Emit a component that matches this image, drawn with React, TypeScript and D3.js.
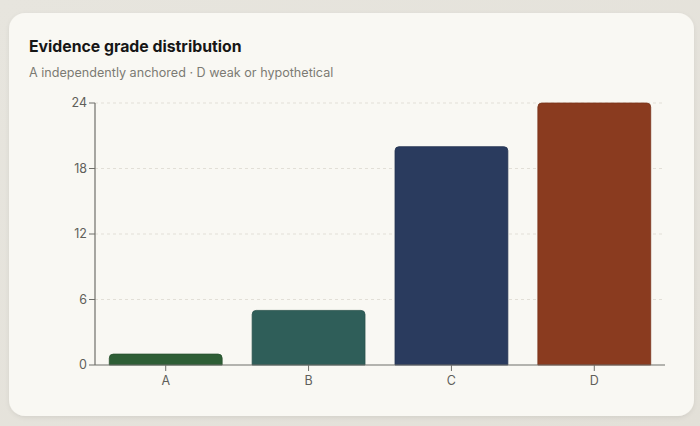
import React from "react";
import * as d3 from "d3";

const categories = ["A", "B", "C", "D"];
const counts = [1, 5, 20, 24];
const barColors = ["#2e5e35", "#2f5e59", "#2a3b5e", "#8a3b1f"];
const yTicks = [0, 6, 12, 18, 24];

const W = 700;
const H = 426;
const margin = { left: 95, right: 35, top: 103, bottom: 61 };

function topRoundedRect(x: number, y: number, w: number, h: number, r: number) {
  const rr = Math.min(r, h, w / 2);
  const p = d3.path();
  p.moveTo(x, y + h);
  p.lineTo(x, y + rr);
  p.quadraticCurveTo(x, y, x + rr, y);
  p.lineTo(x + w - rr, y);
  p.quadraticCurveTo(x + w, y, x + w, y + rr);
  p.lineTo(x + w, y + h);
  p.closePath();
  return p.toString();
}

export default function App() {
  const x = d3
    .scaleBand<string>()
    .domain(categories)
    .range([margin.left, W - margin.right])
    .paddingInner(0.21)
    .paddingOuter(0.1);
  const y = d3
    .scaleLinear()
    .domain([0, 24])
    .range([H - margin.bottom, margin.top]);
  const font = "Inter, 'Noto Sans', sans-serif";
  const x0 = margin.left;
  const x1 = W - margin.right;
  const yBase = y(0);

  return (
    <svg
      width={W}
      height={H}
      style={{ position: "fixed", left: 0, top: 0, display: "block" }}
      fontFamily={font}
    >
      <defs>
        <linearGradient id="bg" x1="0" y1="0" x2="1" y2="1">
          <stop offset="0" stopColor="#e7e5de" />
          <stop offset="1" stopColor="#e3e0d8" />
        </linearGradient>
        <filter id="sh" x="-5%" y="-5%" width="110%" height="115%">
          <feDropShadow dx="0" dy="1.5" stdDeviation="2" floodColor="#000" floodOpacity="0.08" />
        </filter>
      </defs>
      <rect x={0} y={0} width={W} height={H} fill="url(#bg)" />
      <rect x={9} y={13} width={685} height={403} rx={16} fill="#f9f8f3" filter="url(#sh)" />
      <text x={29} y={52} fontSize={15.8} fontWeight={700} fill="#161616">
        Evidence grade distribution
      </text>
      <text x={29} y={77} fontSize={12.6} fill="#7c7b74">
        A independently anchored · D weak or hypothetical
      </text>

      {yTicks.map((t) => (
        <g key={t}>
          {t > 0 && (
            <line
              x1={x0}
              x2={x1}
              y1={y(t)}
              y2={y(t)}
              stroke="#e2dfd7"
              strokeDasharray="3,3"
            />
          )}
          <line x1={x0 - 6} x2={x0} y1={y(t)} y2={y(t)} stroke="#6f6f6a" />
          <text
            x={x0 - 8}
            y={y(t)}
            dy="0.35em"
            textAnchor="end"
            fontSize={12.5}
            fill="#5f5f5a"
          >
            {t}
          </text>
        </g>
      ))}

      {categories.map((c, i) => {
        const bx = x(c)!;
        const by = y(counts[i]);
        return (
          <path
            key={c}
            d={topRoundedRect(bx, by, x.bandwidth(), yBase - by, 4)}
            fill={barColors[i]}
            stroke={d3.color(barColors[i])!.darker(0.4).toString()}
            strokeWidth={0.8}
          />
        );
      })}

      <line x1={x0} x2={x0} y1={y(24)} y2={yBase} stroke="#6f6f6a" strokeWidth={1.2} />
      <line x1={x0} x2={x1} y1={yBase} y2={yBase} stroke="#6f6f6a" strokeWidth={1.2} />
      {categories.map((c) => {
        const cx = x(c)! + x.bandwidth() / 2;
        return (
          <g key={c}>
            <line x1={cx} x2={cx} y1={yBase} y2={yBase + 6} stroke="#6f6f6a" />
            <text x={cx} y={yBase + 20} textAnchor="middle" fontSize={12.5} fill="#5f5f5a">
              {c}
            </text>
          </g>
        );
      })}
    </svg>
  );
}
